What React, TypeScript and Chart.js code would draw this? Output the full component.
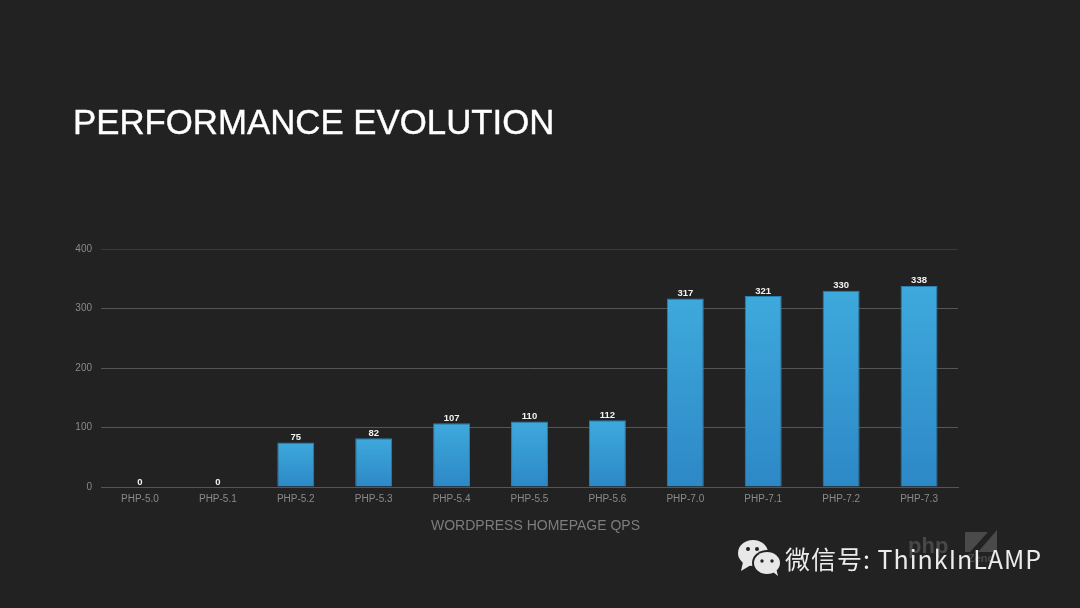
import React, { useEffect, useRef } from "react";
import { Chart, registerables } from "chart.js";

Chart.register(...registerables);

const categories = ["PHP-5.0", "PHP-5.1", "PHP-5.2", "PHP-5.3", "PHP-5.4", "PHP-5.5", "PHP-5.6", "PHP-7.0", "PHP-7.1", "PHP-7.2", "PHP-7.3"];
const qps = [0, 0, 75, 82, 107, 110, 112, 317, 321, 330, 338];
const titleText = "PERFORMANCE EVOLUTION";
const axisTitle = "WORDPRESS HOMEPAGE QPS";
const watermark = "微信号: ThinkInLAMP";
const FONT = '"Liberation Sans", Arial, sans-serif';

const overlayPlugin = {
  id: "overlay",
  afterDatasetsDraw(chart: any) {
    const { ctx } = chart;
    const meta = chart.getDatasetMeta(0);
    ctx.save();
    ctx.fillStyle = "#f2f2f2";
    ctx.font = `bold 9.5px ${FONT}`;
    ctx.textAlign = "center";
    ctx.textBaseline = "alphabetic";
    meta.data.forEach((bar: any, i: number) => {
      ctx.fillText(String(qps[i]), bar.x, bar.y - 2.5);
    });
    ctx.fillStyle = "#7d7d7d";
    ctx.font = `14px ${FONT}`;
    ctx.fillText(axisTitle, 535.5, 530);
    ctx.restore();
  },
};

export default function App() {
  const ref = useRef<HTMLCanvasElement>(null);
  useEffect(() => {
    document.body.style.margin = "0";
    document.body.style.background = "#222222";
    const chart = new Chart(ref.current!, {
      type: "bar",
      data: {
        labels: categories,
        datasets: [
          {
            data: qps,
            barPercentage: 37 / 78,
            categoryPercentage: 1,
            borderWidth: 1,
            borderColor: "#2a80b0",
            backgroundColor: (c: any) => {
              const area = c.chart.chartArea;
              if (!area) return "#3a9fd6";
              const top = c.chart.scales.y.getPixelForValue(c.raw);
              const g = c.chart.ctx.createLinearGradient(0, top, 0, area.bottom);
              g.addColorStop(0, "#3ea9dc");
              g.addColorStop(1, "#2d88c6");
              return g;
            },
          },
        ],
      },
      options: {
        animation: false,
        responsive: false,
        layout: { padding: { left: 0, top: 249, right: 122, bottom: 0 } },
        plugins: { legend: { display: false }, tooltip: { enabled: false } },
        scales: {
          x: {
            afterFit: (s: any) => { s.height = 121; },
            grid: { display: false },
            border: { color: "#555555", width: 1 },
            ticks: { color: "#8a8a8a", font: { family: FONT, size: 10 }, padding: -2, maxRotation: 0, autoSkip: false },
          },
          y: {
            min: 0,
            max: 400,
            afterFit: (s: any) => { s.width = 101; },
            border: { display: false },
            grid: {
              drawTicks: false,
              color: (c: any) => (c.tick.value === 400 ? "#3a3a3a" : "#555555"),
            },
            ticks: { stepSize: 100, color: "#8a8a8a", font: { family: FONT, size: 10 }, padding: 9 },
          },
        },
      },
      plugins: [overlayPlugin],
    } as any);
    return () => chart.destroy();
  }, []);

  return (
    <div style={{ position: "relative", width: 1080, height: 608, background: "#222222", overflow: "hidden" }}>
      <canvas ref={ref} width={1080} height={608} style={{ display: "block", width: 1080, height: 608 }} />
      <div style={{ position: "absolute", left: 73, top: 100, font: `34.8px ${FONT}`, color: "#ffffff", lineHeight: "44px", whiteSpace: "nowrap", WebkitTextStroke: "0.4px #ffffff" }}>
        {titleText}
      </div>
      <div style={{ position: "absolute", left: 908, top: 533, font: `bold 22px ${FONT}`, color: "#484848", whiteSpace: "nowrap" }}>php</div>
      <div style={{ position: "absolute", left: 968, top: 552, font: `bold 11px ${FONT}`, color: "#484848", whiteSpace: "nowrap" }}>Zend</div>
      <svg style={{ position: "absolute", left: 0, top: 0 }} width={1080} height={608}>
        <path d="M965 532 H988 L970 552 H965 Z" fill="#4a4a4a" />
        <path d="M997 530 V552 H978 Z" fill="#4a4a4a" />
        <g fill="#e8e8e8">
          <ellipse cx="753" cy="553" rx="15" ry="13" />
          <path d="M743 562 L741 571 L751 565 Z" />
        </g>
        <ellipse cx="767" cy="563" rx="15" ry="13" fill="#222222" />
        <g fill="#e8e8e8">
          <ellipse cx="767" cy="563" rx="13" ry="11" />
          <path d="M773 572 L778 576 L776 568 Z" />
        </g>
        <g fill="#222222">
          <circle cx="748" cy="549" r="2" />
          <circle cx="757" cy="549" r="2" />
          <circle cx="762" cy="561" r="1.7" />
          <circle cx="772" cy="561" r="1.7" />
        </g>
      </svg>
      <div style={{ position: "absolute", left: 785, top: 540, font: `25px "Noto Sans CJK SC", "Noto Sans", sans-serif`, color: "#ececec", lineHeight: "36px", whiteSpace: "nowrap", letterSpacing: 1 }}>
        {watermark}
      </div>
    </div>
  );
}
